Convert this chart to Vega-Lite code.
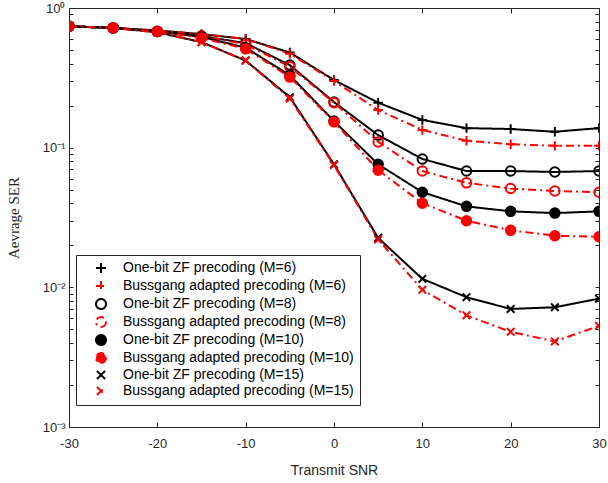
{
  "$schema": "https://vega.github.io/schema/vega-lite/v6.json",
  "width": 530,
  "height": 419,
  "autosize": {"type": "none"},
  "padding": {"left": 69, "top": 8, "right": 9, "bottom": 56},
  "background": "white",
  "config": {
    "view": {"stroke": null},
    "axis": {"grid": false, "domainColor": "#262626", "tickColor": "#262626", "labelColor": "#262626", "labelFont": "Liberation Sans", "labelFontSize": 13, "titleFont": "Liberation Sans", "titleFontWeight": "normal", "titleColor": "#262626", "domainWidth": 1, "tickWidth": 1},
    "legend": {"orient": "none", "legendX": 7, "legendY": 247, "strokeColor": "#262626", "fillColor": "white", "padding": 6, "rowPadding": 0, "labelFont": "Liberation Sans", "labelFontSize": 14, "labelColor": "#000000", "labelLimit": 400, "symbolStrokeWidth": 2, "symbolSize": 100, "symbolOffset": 12, "labelOffset": 15}
  },
  "datasets": {
    "ser": [
      {"series": "One-bit ZF precoding (M=6)", "snr": -30, "ser": 0.74},
      {"series": "One-bit ZF precoding (M=6)", "snr": -25, "ser": 0.72},
      {"series": "One-bit ZF precoding (M=6)", "snr": -20, "ser": 0.69},
      {"series": "One-bit ZF precoding (M=6)", "snr": -15, "ser": 0.65},
      {"series": "One-bit ZF precoding (M=6)", "snr": -10, "ser": 0.6},
      {"series": "One-bit ZF precoding (M=6)", "snr": -5, "ser": 0.48},
      {"series": "One-bit ZF precoding (M=6)", "snr": 0, "ser": 0.305},
      {"series": "One-bit ZF precoding (M=6)", "snr": 5, "ser": 0.21},
      {"series": "One-bit ZF precoding (M=6)", "snr": 10, "ser": 0.158},
      {"series": "One-bit ZF precoding (M=6)", "snr": 15, "ser": 0.138},
      {"series": "One-bit ZF precoding (M=6)", "snr": 20, "ser": 0.136},
      {"series": "One-bit ZF precoding (M=6)", "snr": 25, "ser": 0.13},
      {"series": "One-bit ZF precoding (M=6)", "snr": 30, "ser": 0.138},
      {"series": "Bussgang adapted precoding (M=6)", "snr": -30, "ser": 0.74},
      {"series": "Bussgang adapted precoding (M=6)", "snr": -25, "ser": 0.72},
      {"series": "Bussgang adapted precoding (M=6)", "snr": -20, "ser": 0.69},
      {"series": "Bussgang adapted precoding (M=6)", "snr": -15, "ser": 0.65},
      {"series": "Bussgang adapted precoding (M=6)", "snr": -10, "ser": 0.6},
      {"series": "Bussgang adapted precoding (M=6)", "snr": -5, "ser": 0.47},
      {"series": "Bussgang adapted precoding (M=6)", "snr": 0, "ser": 0.3},
      {"series": "Bussgang adapted precoding (M=6)", "snr": 5, "ser": 0.186},
      {"series": "Bussgang adapted precoding (M=6)", "snr": 10, "ser": 0.134},
      {"series": "Bussgang adapted precoding (M=6)", "snr": 15, "ser": 0.112},
      {"series": "Bussgang adapted precoding (M=6)", "snr": 20, "ser": 0.106},
      {"series": "Bussgang adapted precoding (M=6)", "snr": 25, "ser": 0.103},
      {"series": "Bussgang adapted precoding (M=6)", "snr": 30, "ser": 0.103},
      {"series": "One-bit ZF precoding (M=8)", "snr": -30, "ser": 0.74},
      {"series": "One-bit ZF precoding (M=8)", "snr": -25, "ser": 0.72},
      {"series": "One-bit ZF precoding (M=8)", "snr": -20, "ser": 0.68},
      {"series": "One-bit ZF precoding (M=8)", "snr": -15, "ser": 0.63},
      {"series": "One-bit ZF precoding (M=8)", "snr": -10, "ser": 0.56},
      {"series": "One-bit ZF precoding (M=8)", "snr": -5, "ser": 0.39},
      {"series": "One-bit ZF precoding (M=8)", "snr": 0, "ser": 0.212},
      {"series": "One-bit ZF precoding (M=8)", "snr": 5, "ser": 0.123},
      {"series": "One-bit ZF precoding (M=8)", "snr": 10, "ser": 0.083},
      {"series": "One-bit ZF precoding (M=8)", "snr": 15, "ser": 0.068},
      {"series": "One-bit ZF precoding (M=8)", "snr": 20, "ser": 0.068},
      {"series": "One-bit ZF precoding (M=8)", "snr": 25, "ser": 0.067},
      {"series": "One-bit ZF precoding (M=8)", "snr": 30, "ser": 0.068},
      {"series": "Bussgang adapted precoding (M=8)", "snr": -30, "ser": 0.74},
      {"series": "Bussgang adapted precoding (M=8)", "snr": -25, "ser": 0.72},
      {"series": "Bussgang adapted precoding (M=8)", "snr": -20, "ser": 0.68},
      {"series": "Bussgang adapted precoding (M=8)", "snr": -15, "ser": 0.63},
      {"series": "Bussgang adapted precoding (M=8)", "snr": -10, "ser": 0.55},
      {"series": "Bussgang adapted precoding (M=8)", "snr": -5, "ser": 0.38},
      {"series": "Bussgang adapted precoding (M=8)", "snr": 0, "ser": 0.21},
      {"series": "Bussgang adapted precoding (M=8)", "snr": 5, "ser": 0.11},
      {"series": "Bussgang adapted precoding (M=8)", "snr": 10, "ser": 0.068},
      {"series": "Bussgang adapted precoding (M=8)", "snr": 15, "ser": 0.056},
      {"series": "Bussgang adapted precoding (M=8)", "snr": 20, "ser": 0.051},
      {"series": "Bussgang adapted precoding (M=8)", "snr": 25, "ser": 0.049},
      {"series": "Bussgang adapted precoding (M=8)", "snr": 30, "ser": 0.048},
      {"series": "One-bit ZF precoding (M=10)", "snr": -30, "ser": 0.74},
      {"series": "One-bit ZF precoding (M=10)", "snr": -25, "ser": 0.72},
      {"series": "One-bit ZF precoding (M=10)", "snr": -20, "ser": 0.68},
      {"series": "One-bit ZF precoding (M=10)", "snr": -15, "ser": 0.62},
      {"series": "One-bit ZF precoding (M=10)", "snr": -10, "ser": 0.52},
      {"series": "One-bit ZF precoding (M=10)", "snr": -5, "ser": 0.33},
      {"series": "One-bit ZF precoding (M=10)", "snr": 0, "ser": 0.155},
      {"series": "One-bit ZF precoding (M=10)", "snr": 5, "ser": 0.076},
      {"series": "One-bit ZF precoding (M=10)", "snr": 10, "ser": 0.048},
      {"series": "One-bit ZF precoding (M=10)", "snr": 15, "ser": 0.038},
      {"series": "One-bit ZF precoding (M=10)", "snr": 20, "ser": 0.035},
      {"series": "One-bit ZF precoding (M=10)", "snr": 25, "ser": 0.034},
      {"series": "One-bit ZF precoding (M=10)", "snr": 30, "ser": 0.035},
      {"series": "Bussgang adapted precoding (M=10)", "snr": -30, "ser": 0.74},
      {"series": "Bussgang adapted precoding (M=10)", "snr": -25, "ser": 0.72},
      {"series": "Bussgang adapted precoding (M=10)", "snr": -20, "ser": 0.68},
      {"series": "Bussgang adapted precoding (M=10)", "snr": -15, "ser": 0.61},
      {"series": "Bussgang adapted precoding (M=10)", "snr": -10, "ser": 0.51},
      {"series": "Bussgang adapted precoding (M=10)", "snr": -5, "ser": 0.32},
      {"series": "Bussgang adapted precoding (M=10)", "snr": 0, "ser": 0.153},
      {"series": "Bussgang adapted precoding (M=10)", "snr": 5, "ser": 0.069},
      {"series": "Bussgang adapted precoding (M=10)", "snr": 10, "ser": 0.04},
      {"series": "Bussgang adapted precoding (M=10)", "snr": 15, "ser": 0.03},
      {"series": "Bussgang adapted precoding (M=10)", "snr": 20, "ser": 0.0256},
      {"series": "Bussgang adapted precoding (M=10)", "snr": 25, "ser": 0.0234},
      {"series": "Bussgang adapted precoding (M=10)", "snr": 30, "ser": 0.023},
      {"series": "One-bit ZF precoding (M=15)", "snr": -30, "ser": 0.74},
      {"series": "One-bit ZF precoding (M=15)", "snr": -25, "ser": 0.72},
      {"series": "One-bit ZF precoding (M=15)", "snr": -20, "ser": 0.67},
      {"series": "One-bit ZF precoding (M=15)", "snr": -15, "ser": 0.57},
      {"series": "One-bit ZF precoding (M=15)", "snr": -10, "ser": 0.42},
      {"series": "One-bit ZF precoding (M=15)", "snr": -5, "ser": 0.23},
      {"series": "One-bit ZF precoding (M=15)", "snr": 0, "ser": 0.076},
      {"series": "One-bit ZF precoding (M=15)", "snr": 5, "ser": 0.0226},
      {"series": "One-bit ZF precoding (M=15)", "snr": 10, "ser": 0.0115},
      {"series": "One-bit ZF precoding (M=15)", "snr": 15, "ser": 0.0085},
      {"series": "One-bit ZF precoding (M=15)", "snr": 20, "ser": 0.007},
      {"series": "One-bit ZF precoding (M=15)", "snr": 25, "ser": 0.0072},
      {"series": "One-bit ZF precoding (M=15)", "snr": 30, "ser": 0.0083},
      {"series": "Bussgang adapted precoding (M=15)", "snr": -30, "ser": 0.74},
      {"series": "Bussgang adapted precoding (M=15)", "snr": -25, "ser": 0.72},
      {"series": "Bussgang adapted precoding (M=15)", "snr": -20, "ser": 0.67},
      {"series": "Bussgang adapted precoding (M=15)", "snr": -15, "ser": 0.57},
      {"series": "Bussgang adapted precoding (M=15)", "snr": -10, "ser": 0.42},
      {"series": "Bussgang adapted precoding (M=15)", "snr": -5, "ser": 0.225},
      {"series": "Bussgang adapted precoding (M=15)", "snr": 0, "ser": 0.075},
      {"series": "Bussgang adapted precoding (M=15)", "snr": 5, "ser": 0.022},
      {"series": "Bussgang adapted precoding (M=15)", "snr": 10, "ser": 0.0096},
      {"series": "Bussgang adapted precoding (M=15)", "snr": 15, "ser": 0.0063},
      {"series": "Bussgang adapted precoding (M=15)", "snr": 20, "ser": 0.0048},
      {"series": "Bussgang adapted precoding (M=15)", "snr": 25, "ser": 0.0041},
      {"series": "Bussgang adapted precoding (M=15)", "snr": 30, "ser": 0.0053}
    ]
  },
  "data": {"name": "ser"},
  "layer": [
    {
      "mark": {"type": "line", "strokeWidth": 2, "clip": true},
      "encoding": {
        "x": {"field": "snr", "type": "quantitative", "scale": {"domain": [-30, 30], "nice": false, "zero": false},
          "axis": {"orient": "bottom", "values": [-30, -20, -10, 0, 10, 20, 30], "labelExpr": "'' + datum.value", "title": "Transmit SNR", "titleFontSize": 14, "titlePadding": 13, "tickSize": -5, "labelPadding": 15, "labelFlush": false}},
        "y": {"field": "ser", "type": "quantitative", "scale": {"type": "log", "domain": [0.001, 1], "nice": false},
          "axis": {"orient": "left", "values": [0.001, 0.002, 0.003, 0.004, 0.005, 0.006, 0.007, 0.008, 0.009, 0.01, 0.02, 0.03, 0.04, 0.05, 0.06, 0.07, 0.08, 0.09, 0.1, 0.2, 0.3, 0.4, 0.5, 0.6, 0.7, 0.8, 0.9, 1],
            "labelExpr": "datum.value == 1 ? '10⁰' : datum.value == 0.1 ? '10⁻¹' : datum.value == 0.01 ? '10⁻²' : datum.value == 0.001 ? '10⁻³' : ''",
            "tickSize": -4, "labelPadding": 8, "labelFlush": false, "labelOverlap": false, "title": "Aevrage SER", "titleFont": "Liberation Serif", "titleFontSize": 15, "titlePadding": 21}},
        "color": {"field": "series", "type": "nominal",
          "scale": {"domain": ["One-bit ZF precoding (M=6)", "Bussgang adapted precoding (M=6)", "One-bit ZF precoding (M=8)", "Bussgang adapted precoding (M=8)", "One-bit ZF precoding (M=10)", "Bussgang adapted precoding (M=10)", "One-bit ZF precoding (M=15)", "Bussgang adapted precoding (M=15)"],
            "range": ["#000000", "#ff0000", "#000000", "#ff0000", "#000000", "#ff0000", "#000000", "#ff0000"]}},
        "strokeDash": {"field": "series", "type": "nominal", "legend": null,
          "scale": {"domain": ["One-bit ZF precoding (M=6)", "Bussgang adapted precoding (M=6)", "One-bit ZF precoding (M=8)", "Bussgang adapted precoding (M=8)", "One-bit ZF precoding (M=10)", "Bussgang adapted precoding (M=10)", "One-bit ZF precoding (M=15)", "Bussgang adapted precoding (M=15)"],
            "range": [[1, 0], [8, 4, 2, 4], [1, 0], [8, 4, 2, 4], [1, 0], [8, 4, 2, 4], [1, 0], [8, 4, 2, 4]]}}
      }
    },
    {
      "mark": {"type": "point", "filled": false, "strokeWidth": 2, "size": 90, "opacity": 1, "clip": true},
      "encoding": {
        "x": {"field": "snr", "type": "quantitative", "scale": {"domain": [-30, 30], "nice": false, "zero": false},
          "axis": {"orient": "top", "values": [-30, -20, -10, 0, 10, 20, 30], "labels": false, "title": null, "tickSize": -5}},
        "y": {"field": "ser", "type": "quantitative", "scale": {"type": "log", "domain": [0.001, 1], "nice": false},
          "axis": {"orient": "right", "values": [0.001, 0.002, 0.003, 0.004, 0.005, 0.006, 0.007, 0.008, 0.009, 0.01, 0.02, 0.03, 0.04, 0.05, 0.06, 0.07, 0.08, 0.09, 0.1, 0.2, 0.3, 0.4, 0.5, 0.6, 0.7, 0.8, 0.9, 1], "labels": false, "title": null, "tickSize": -4}},
        "color": {"field": "series", "type": "nominal",
          "scale": {"domain": ["One-bit ZF precoding (M=6)", "Bussgang adapted precoding (M=6)", "One-bit ZF precoding (M=8)", "Bussgang adapted precoding (M=8)", "One-bit ZF precoding (M=10)", "Bussgang adapted precoding (M=10)", "One-bit ZF precoding (M=15)", "Bussgang adapted precoding (M=15)"],
            "range": ["#000000", "#ff0000", "#000000", "#ff0000", "#000000", "#ff0000", "#000000", "#ff0000"]},
          "legend": {"title": null}},
        "fill": {"field": "series", "type": "nominal",
          "scale": {"domain": ["One-bit ZF precoding (M=6)", "Bussgang adapted precoding (M=6)", "One-bit ZF precoding (M=8)", "Bussgang adapted precoding (M=8)", "One-bit ZF precoding (M=10)", "Bussgang adapted precoding (M=10)", "One-bit ZF precoding (M=15)", "Bussgang adapted precoding (M=15)"],
            "range": ["transparent", "transparent", "transparent", "transparent", "#000000", "#ff0000", "transparent", "transparent"]}},
        "shape": {"field": "series", "type": "nominal",
          "scale": {"domain": ["One-bit ZF precoding (M=6)", "Bussgang adapted precoding (M=6)", "One-bit ZF precoding (M=8)", "Bussgang adapted precoding (M=8)", "One-bit ZF precoding (M=10)", "Bussgang adapted precoding (M=10)", "One-bit ZF precoding (M=15)", "Bussgang adapted precoding (M=15)"],
            "range": ["M-1,0H1M0,-1V1", "M-1,0H1M0,-1V1", "circle", "circle", "circle", "circle", "M-0.8,-0.8L0.8,0.8M-0.8,0.8L0.8,-0.8", "M-0.8,-0.8L0.8,0.8M-0.8,0.8L0.8,-0.8"]}}
      }
    }
  ],
  "resolve": {"axis": {"x": "independent", "y": "independent"}}
}
